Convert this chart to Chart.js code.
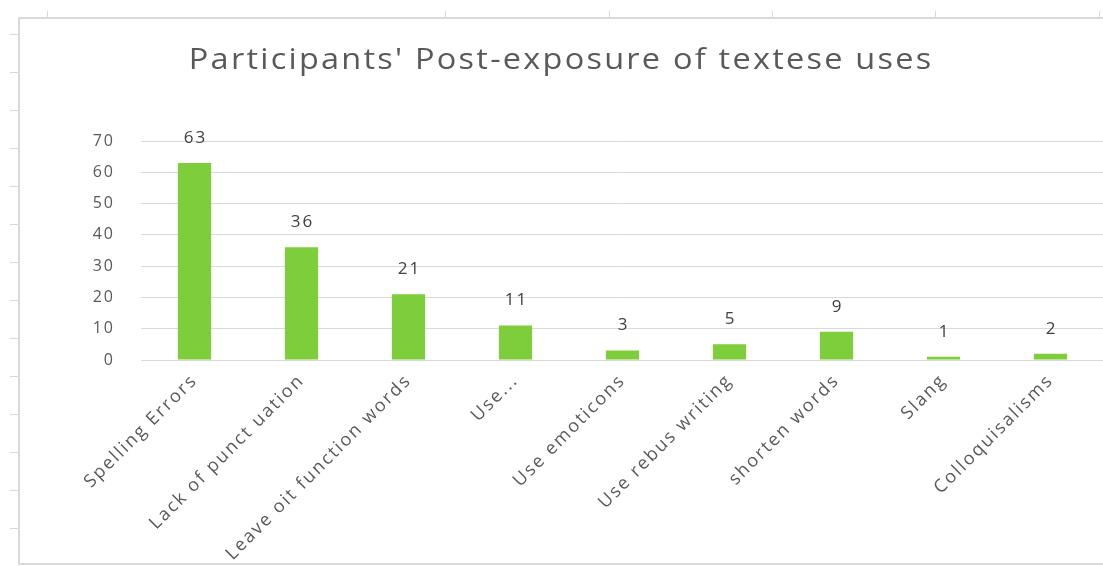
<!DOCTYPE html>
<html>
<head>
<meta charset="utf-8">
<script src="https://cdn.jsdelivr.net/npm/chart.js@4"></script>
<style>
  html, body { margin: 0; padding: 0; background: #fff; overflow: hidden; }
  body { width: 1103px; height: 566px; position: relative; font-family: "Open Sans", sans-serif; }
  #frame {
    position: absolute; left: 18px; top: 17px; width: 1110px; height: 544px;
    border-left: 2px solid #d9d9d9; border-top: 2px solid #d9d9d9; border-bottom: 2px solid #d9d9d9;
  }
  #chartBox { position: absolute; left: 0; top: 0; width: 1100px; height: 544px; }
  #title {
    position: absolute; left: 0; top: 38px; width: 1120px; padding-left: 2px; box-sizing: border-box;
    text-align: center; font-size: 29px; line-height: 40px; letter-spacing: 2px; color: #595959;
    white-space: nowrap; transform: scaleX(1.12); transform-origin: 560px 0;
  }
  .tick { position: absolute; background: #d9d9d9; }
</style>
</head>
<body>
<div id="frame">
  <div id="chartBox"><canvas id="textChart"></canvas></div>
</div>
<div id="title">Participants' Post-exposure of textese uses</div>
<script>
// categories and counts
const categories = ['Spelling Errors', 'Lack of punct uation', 'Leave oit function words', 'Use...',
  'Use emoticons', 'Use rebus writing', 'shorten words', 'Slang', 'Colloquisalisms'];
const counts = [63, 36, 21, 11, 3, 5, 9, 1, 2];
const yTicks = [0, 10, 20, 30, 40, 50, 60, 70];

// sheet gridline stubs around the chart frame
const colStubs = [47, 445, 609, 772, 935, 1099];
const rowStubs = [34, 72, 110, 148, 186, 224, 262, 300, 338, 376, 414, 452, 490, 528];
colStubs.forEach(x => {
  const d = document.createElement('div');
  d.className = 'tick';
  d.style.cssText = `left:${x}px;top:11px;width:1px;height:7px;`;
  document.body.appendChild(d);
});
rowStubs.forEach(y => {
  const d = document.createElement('div');
  d.className = 'tick';
  d.style.cssText = `left:10px;top:${y}px;width:8px;height:1px;`;
  document.body.appendChild(d);
});

// wider tracking for all canvas text (kept through save/restore)
const tracking = {
  id: 'tracking',
  beforeLayout(chart) { chart.ctx.letterSpacing = '2px'; },
  beforeDraw(chart) { chart.ctx.letterSpacing = '2px'; }
};

// value above each bar
const valueLabels = {
  id: 'valueLabels',
  afterDatasetsDraw(chart) {
    const ctx = chart.ctx;
    const meta = chart.getDatasetMeta(0);
    ctx.save();
    ctx.font = '17px "Open Sans"';
    ctx.fillStyle = '#404040';
    ctx.textAlign = 'center';
    ctx.textBaseline = 'middle';
    meta.data.forEach((bar, i) => {
      ctx.fillText(String(counts[i]), bar.x + 1, bar.y - 25);
    });
    ctx.restore();
  }
};

const ctx = document.getElementById('textChart').getContext('2d');
const textChart = new Chart(ctx, {
  type: 'bar',
  data: {
    labels: categories,
    datasets: [{
      data: counts,
      backgroundColor: '#7dce3a',
      categoryPercentage: 1,
      barPercentage: 0.31
    }]
  },
  options: {
    responsive: true,
    maintainAspectRatio: false,
    animation: false,
    layout: { padding: { left: 0, right: 16, top: 122, bottom: 0 } },
    plugins: {
      legend: { display: false },
      tooltip: { enabled: false },
      title: { display: false }
    },
    scales: {
      x: {
        grid: { display: false },
        border: { display: false },
        ticks: {
          color: '#595959',
          font: { family: '"Open Sans"', size: 18 },
          minRotation: 45,
          maxRotation: 45,
          autoSkip: false,
          padding: 2
        },
        afterFit(scale) { scale.height = 203; }
      },
      y: {
        min: 0,
        max: 70,
        afterBuildTicks(scale) { scale.ticks = yTicks.map(v => ({ value: v })); },
        grid: { color: '#d9d9d9', lineWidth: 1, drawTicks: false },
        border: { display: false },
        ticks: {
          color: '#595959',
          font: { family: '"Open Sans"', size: 16 },
          padding: 26
        },
        afterFit(scale) { scale.width = 121; }
      }
    }
  },
  plugins: [tracking, valueLabels]
});
</script>
</body>
</html>
